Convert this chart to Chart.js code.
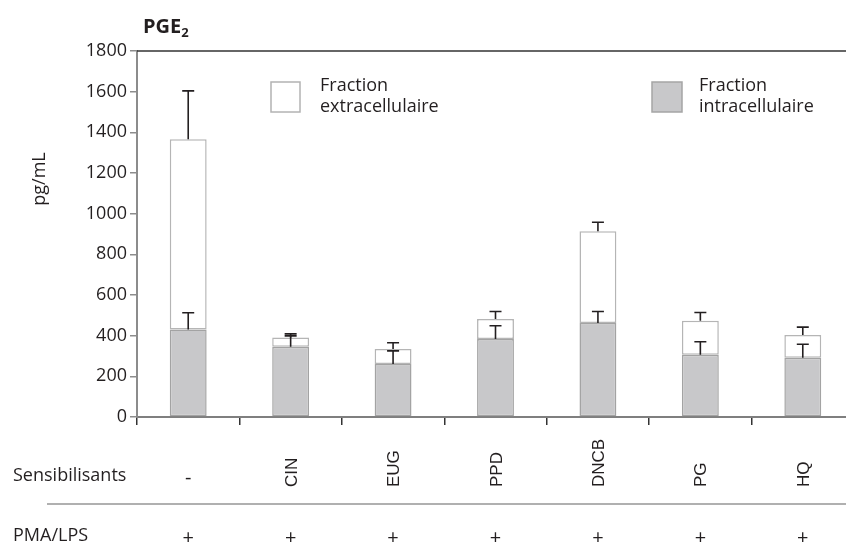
<!DOCTYPE html>
<html><head><meta charset="utf-8">
<script src="https://cdn.jsdelivr.net/npm/chart.js@4/dist/chart.umd.min.js"></script>
<style>
html,body{margin:0;padding:0;background:#fff;overflow:hidden;width:846px;height:546px}
#wrap{width:846px;height:546px;overflow:hidden;position:relative}
canvas{position:absolute;left:0;top:0}
</style></head>
<body><div id="wrap"><canvas id="c" width="870" height="546"></canvas></div>
<script>
const categories = ['-', 'CIN', 'EUG', 'PPD', 'DNCB', 'PG', 'HQ'];
const pmaLps = ['+', '+', '+', '+', '+', '+', '+'];
const intracellulaire = [430, 345, 261, 383, 462, 306, 292];
const extracellulaire = [936, 46, 73, 99, 452, 167, 111];
const intraErr = [83, 54, 64, 66, 57, 64, 66];
const totalErr = [238, 18, 31, 37, 44, 41, 39];
const seriesNames = ['Fraction intracellulaire', 'Fraction extracellulaire'];
const rowLabels = ['Sensibilisants', 'PMA/LPS'];

const FONT = '"Open Sans", "Noto Sans", sans-serif';
const INK = '#231f20';

const errorBars = {
  id: 'errorBars',
  afterDatasetsDraw(chart) {
    const ctx = chart.ctx, x = chart.scales.x, y = chart.scales.y;
    ctx.save();
    ctx.strokeStyle = INK;
    ctx.lineWidth = 1.6;
    const draw = (cx, base, err) => {
      const y0 = y.getPixelForValue(base), y1 = y.getPixelForValue(base + err);
      ctx.beginPath();
      ctx.moveTo(cx, y0); ctx.lineTo(cx, y1);
      ctx.moveTo(cx - 6, y1); ctx.lineTo(cx + 6, y1);
      ctx.stroke();
    };
    categories.forEach((c, i) => {
      const cx = x.getPixelForValue(i);
      const total = intracellulaire[i] + extracellulaire[i];
      draw(cx, total, totalErr[i]);
      draw(cx, intracellulaire[i], intraErr[i]);
    });
    ctx.restore();
  }
};

const decorations = {
  id: 'decorations',
  afterDraw(chart) {
    const ctx = chart.ctx, x = chart.scales.x, y = chart.scales.y, a = chart.chartArea;
    ctx.save();
    ctx.strokeStyle = '#333';
    ctx.lineWidth = 1.5;
    ctx.beginPath();
    ctx.moveTo(a.left, y.getPixelForValue(1800));
    ctx.lineTo(870, y.getPixelForValue(1800));
    ctx.stroke();

    ctx.fillStyle = INK;
    ctx.textBaseline = 'alphabetic';
    ctx.textAlign = 'left';
    ctx.font = 'bold 20px ' + FONT;
    ctx.fillText('PGE', 143, 33);
    const w = ctx.measureText('PGE').width;
    ctx.font = 'bold 13px ' + FONT;
    ctx.fillText('2', 143 + w, 37);

    ctx.save();
    ctx.translate(40, 179);
    ctx.rotate(-Math.PI / 2);
    ctx.font = '18px ' + FONT;
    ctx.textAlign = 'center';
    ctx.textBaseline = 'middle';
    ctx.fillText('pg/mL', 0, 0);
    ctx.restore();

    ctx.lineWidth = 1.5;
    ctx.fillStyle = '#ffffff';
    ctx.strokeStyle = '#b3b3b3';
    ctx.fillRect(271, 82, 29, 30);
    ctx.strokeRect(271, 82, 29, 30);
    ctx.fillStyle = '#c8c8ca';
    ctx.strokeStyle = '#a5a5a5';
    ctx.fillRect(652, 82, 30, 30);
    ctx.strokeRect(652, 82, 30, 30);
    ctx.fillStyle = INK;
    ctx.font = '18px ' + FONT;
    ctx.textBaseline = 'middle';
    ctx.textAlign = 'left';
    const ext = seriesNames[1].split(' '), int = seriesNames[0].split(' ');
    ctx.fillText(ext[0], 320, 86);
    ctx.fillText(ext[1], 320, 107);
    ctx.fillText(int[0], 699, 86);
    ctx.fillText(int[1], 699, 107);

    ctx.fillText(rowLabels[0], 13, 476);
    ctx.fillText(rowLabels[1], 13, 536);

    ctx.strokeStyle = '#b0b0b0';
    ctx.lineWidth = 2;
    ctx.beginPath();
    ctx.moveTo(47, 504); ctx.lineTo(870, 504);
    ctx.stroke();

    categories.forEach((c, i) => {
      const cx = x.getPixelForValue(i);
      if (c === '-') {
        ctx.font = '20px ' + FONT;
        ctx.textAlign = 'center';
        ctx.textBaseline = 'middle';
        ctx.fillText(c, cx, 478);
      } else {
        ctx.save();
        ctx.translate(cx + 6, 487);
        ctx.rotate(-Math.PI / 2);
        ctx.font = '17px "Liberation Sans", Arial, sans-serif';
        ctx.textAlign = 'left';
        ctx.textBaseline = 'alphabetic';
        ctx.fillText(c, 0, 0);
        ctx.restore();
      }
      ctx.font = '20px ' + FONT;
      ctx.textAlign = 'center';
      ctx.textBaseline = 'middle';
      ctx.fillText(pmaLps[i], cx, 538);
    });
    ctx.restore();
  }
};

new Chart(document.getElementById('c'), {
  type: 'bar',
  data: {
    labels: categories,
    datasets: [
      {
        label: seriesNames[0],
        data: intracellulaire,
        backgroundColor: '#c8c8ca',
        borderColor: '#a3a3a3',
        borderWidth: 1.5,
        borderSkipped: false,
        barPercentage: 0.36,
        categoryPercentage: 1
      },
      {
        label: seriesNames[1],
        data: extracellulaire,
        backgroundColor: '#ffffff',
        borderColor: '#b5b5b5',
        borderWidth: 1.5,
        borderSkipped: false,
        barPercentage: 0.36,
        categoryPercentage: 1
      }
    ]
  },
  options: {
    responsive: false,
    devicePixelRatio: 1,
    animation: false,
    layout: { padding: { top: 51, right: 16, left: 0, bottom: 0 } },
    plugins: { legend: { display: false }, tooltip: { enabled: false }, title: { display: false } },
    scales: {
      x: {
        stacked: true,
        offset: true,
        grid: { offset: true, drawOnChartArea: false, drawTicks: true, tickLength: 8, color: '#333', lineWidth: 1.5 },
        border: { display: true, color: '#7f7f7f', width: 2 },
        ticks: { display: false },
        afterFit: s => { s.height = 129; }
      },
      y: {
        stacked: true,
        min: 0,
        max: 1800,
        ticks: { stepSize: 200, font: { family: FONT, size: 18 }, color: INK, padding: 3, callback: v => String(v) },
        grid: { drawOnChartArea: false, drawTicks: true, tickLength: 7, color: '#8c8c8c', lineWidth: 1.5 },
        border: { display: true, color: '#8c8c8c', width: 2 },
        afterFit: s => { s.width = 137; }
      }
    }
  },
  plugins: [errorBars, decorations]
});
</script>
</body></html>
